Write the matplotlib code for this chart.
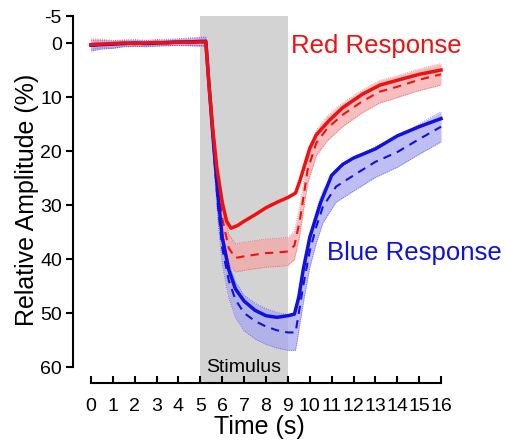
import matplotlib
matplotlib.use("Agg")
import matplotlib.pyplot as plt

plt.rcParams["font.family"] = ["Liberation Sans", "DejaVu Sans"]

# time points (s) and responses (% relative amplitude, positive = downward)
red_t = [0, 0.5, 1, 1.5, 2, 2.5, 3, 3.5, 4, 4.5, 5, 5.25, 5.4, 5.57, 5.75, 6.0, 6.2, 6.4,
         6.7, 7.0, 7.5, 8.0, 8.5, 9.0, 9.35, 9.55, 9.7, 10.0, 10.3, 10.9, 11.5, 12.4,
         13.2, 14.0, 15.0, 16.0]
red_solid = [0.3, 0.2, 0.1, 0.0, 0.1, 0.0, -0.1, 0.0, -0.2, -0.1, -0.2, -0.2, 8, 16,
             23, 29.5, 33.0, 34.3, 33.8, 33.0, 31.8, 30.5, 29.5, 28.6, 27.8, 25.5,
             23.5, 19.5, 17.0, 14.3, 12.0, 9.5, 7.8, 6.9, 5.8, 5.0]

red_dash_t = [0, 0.5, 1, 1.5, 2, 2.5, 3, 3.5, 4, 4.5, 5, 5.25, 5.4, 5.57, 5.8, 6.0, 6.3,
              6.6, 7.0, 7.5, 8.0, 8.5, 9.0, 9.3, 9.55, 9.9, 10.3, 10.8, 11.5, 12.4,
              13.2, 14.0, 15.0, 16.0]
red_dash = [0.2, 0.1, 0.2, 0.0, 0.0, 0.1, -0.1, 0.0, -0.1, -0.2, -0.2, -0.2, 8, 16.5, 26,
            32.5, 38.0, 39.8, 39.5, 39.2, 38.9, 38.8, 38.6, 37.5, 32.8, 23.5, 18.5, 15.8,
            13.3, 10.8, 9.0, 8.1, 6.8, 5.8]
red_err = [1.0, 0.8, 0.7, 0.6, 0.6, 0.5, 0.5, 0.5, 0.6, 0.7, 0.8, 0.8, 1.5, 2.0, 2.3,
           2.5, 2.6, 2.6, 2.6, 2.6, 2.6, 2.6, 2.6, 2.6, 2.6, 2.5, 2.4, 2.3, 2.2, 2.1,
           2.1, 2.0, 2.0, 2.0]

blue_t = [0, 0.5, 1, 1.5, 2, 2.5, 3, 3.5, 4, 4.5, 5, 5.25, 5.4, 5.57, 5.8, 6.0, 6.3, 6.6,
          7.0, 7.5, 8.0, 8.5, 9.0, 9.3, 9.5, 9.7, 10.0, 10.5, 11.0, 11.5, 12.0, 13.0,
          14.0, 15.0, 16.0]
blue_solid = [0.4, 0.3, 0.2, 0.1, 0.0, 0.1, 0.0, -0.1, -0.2, -0.2, -0.3, -0.3, 8, 17,
              28, 36, 42, 45.5, 47.8, 49.5, 50.5, 50.8, 50.5, 50.2, 47.0, 42.0, 36.0,
              29.5, 24.5, 22.5, 21.3, 19.6, 17.2, 15.5, 14.0]

blue_dash_t = [0, 0.5, 1, 1.5, 2, 2.5, 3, 3.5, 4, 4.5, 5, 5.25, 5.4, 5.57, 5.8, 6.0, 6.3,
               6.6, 7.0, 7.5, 8.0, 8.5, 9.0, 9.35, 9.5, 9.7, 10.0, 10.3, 10.6, 11.2,
               12.2, 13.0, 14.0, 15.0, 16.0]
blue_dash = [0.5, 0.3, 0.3, 0.1, 0.0, 0.1, 0.0, -0.1, -0.2, -0.2, -0.3, -0.3, 8, 17.5, 30,
             38, 44, 47.5, 50.0, 51.5, 52.5, 53.2, 53.6, 53.6, 50.0, 45.0, 38.5, 34.0,
             30.3, 26.6, 24.0, 22.0, 20.2, 17.8, 15.5]
blue_err = [1.0, 0.8, 0.7, 0.6, 0.6, 0.6, 0.6, 0.6, 0.6, 0.7, 0.8, 0.8, 1.5, 2.2, 2.8,
            3.0, 3.2, 3.3, 3.3, 3.3, 3.3, 3.3, 3.3, 3.3, 3.3, 3.2, 3.1, 3.0, 3.0, 2.9,
            2.9, 2.9, 2.8, 2.8, 2.8]

x_ticks = list(range(0, 17))
y_ticks = [-5, 0, 10, 20, 30, 40, 50, 60]
stim_on, stim_off = 5, 9

RED = "#f01010"
BLUE = "#1010e0"

fig = plt.figure(figsize=(5.06, 4.40), dpi=100)
ax = fig.add_axes([73 / 506, 57 / 440, 372 / 506, 367 / 440])

ax.axvspan(stim_on, stim_off, color="#d3d3d3", lw=0, zorder=0)
ax.text((stim_on + stim_off) / 2, 60.0, "Stimulus", ha="center", va="center",
        fontsize=14)

# shaded SEM bands around the dashed traces
for t, m, e, c, fc in [(red_dash_t, red_dash, red_err, RED, "#f4a8a8"),
                       (blue_dash_t, blue_dash, blue_err, BLUE, "#a8a8f0")]:
    lo = [a - b for a, b in zip(m, e)]
    hi = [a + b for a, b in zip(m, e)]
    ax.fill_between(t, lo, hi, color=fc, alpha=0.75, lw=0, zorder=1)
    ax.plot(t, lo, color=c, lw=0.6, ls=":", alpha=0.6, zorder=2)
    ax.plot(t, hi, color=c, lw=0.6, ls=":", alpha=0.6, zorder=2)

ax.plot(blue_dash_t, blue_dash, color=BLUE, lw=1.5, ls=(0, (4, 3)), zorder=3)
ax.plot(red_dash_t, red_dash, color=RED, lw=1.5, ls=(0, (4, 3)), zorder=3)
ax.plot(blue_t, blue_solid, color=BLUE, lw=2.5, zorder=4)
ax.plot(red_t, red_solid, color=RED, lw=2.5, zorder=5)

ax.text(13.05, 0.5, "Red Response", color=RED, fontsize=18.5, ha="center", va="center")
ax.text(14.8, 38.8, "Blue Response", color=BLUE, fontsize=18.5, ha="center", va="center")

ax.set_xlim(-0.82, 16.18)
ax.set_ylim(62.96, -5.0)
ax.set_xticks(x_ticks)
ax.set_yticks(y_ticks)
ax.set_yticklabels([str(v) for v in y_ticks])

for s in ["top", "right"]:
    ax.spines[s].set_visible(False)
ax.spines["left"].set_bounds(-5, 60)
ax.spines["bottom"].set_bounds(0, 16)
ax.spines["left"].set_linewidth(1.5)
ax.spines["bottom"].set_linewidth(1.5)
ax.tick_params(axis="y", direction="out", length=5, width=1.5, labelsize=14, pad=3)
ax.tick_params(axis="x", direction="in", length=5, width=1.5, labelsize=14, pad=11)

ax.set_xlabel("Time (s)", fontsize=18, labelpad=0)
ax.set_ylabel("Relative Amplitude (%)", fontsize=18, labelpad=1)

fig.savefig("out.png", dpi=100)
